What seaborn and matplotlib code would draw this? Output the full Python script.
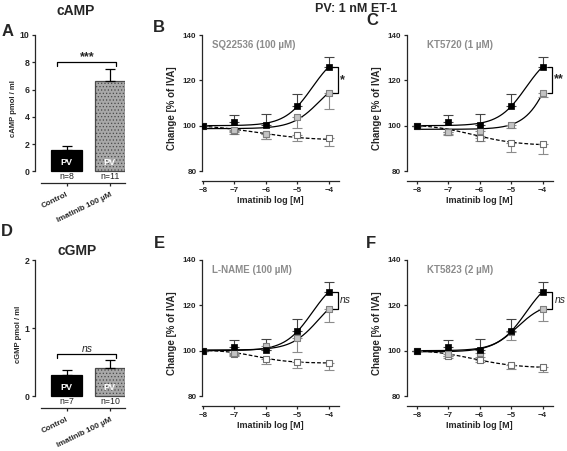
import numpy as np
import pandas as pd
import matplotlib
matplotlib.use('Agg')
import matplotlib.pyplot as plt
import matplotlib.transforms as mtransforms
import seaborn as sns

# ---- bar panels (A, D) ----
bar_groups = ['Control', 'Imatinib 100 µM']
camp_mean = [1.54, 6.64]
camp_sem = [0.35, 0.84]
camp_n = ['n=8', 'n=11']
cgmp_mean = [0.31, 0.41]
cgmp_sem = [0.07, 0.13]
cgmp_n = ['n=7', 'n=10']

# ---- concentration-response panels (B, C, E, F) ----
log_conc = [-8, -7, -6, -5, -4]
x_ticks = [-8, -7, -6, -5, -4]

# ET-1 + imatinib (black squares), same in every panel
et1_mean = [100, 101.8, 100.3, 108.5, 126]
et1_sem = [0, 3.0, 5.0, 5.4, 4.5]
et1_fit = [100, 133.7, -4.53, 1.0]   # bottom, top, logEC50, hill

# B: SQ22536
sq_mean = [100, 98.2, 96.5, 104, 114.5]
sq_sem = [0, 1.2, 2.3, 5.2, 7.2]
sq_fit = [98.7, 122.7, -4.3, 1.0]
sq_veh_mean = [100, 97.5, 96.5, 95.8, 94.7]
sq_veh_sem = [0, 1.0, 2.4, 2.4, 3.5]
sq_veh_fit = [100.6, 93.5, -6.3, 0.5]

# C: KT5720
kt20_mean = [100, 97.2, 97.8, 100.4, 114.6]
kt20_sem = [0, 1.0, 2.5, 1.5, 2.0]
kt20_fit = [98.4, 160.4, -3.54, 1.0]
kt20_veh_mean = [100, 97.0, 94.7, 92.2, 91.8]
kt20_veh_sem = [0, 1.3, 1.5, 4.0, 4.3]
kt20_veh_fit = [100.8, 91.2, -6.2, 0.6]

# E: L-NAME
lname_mean = [100, 99.0, 102.2, 105.4, 118.5]
lname_sem = [0, 1.0, 2.0, 6.0, 6.0]
lname_fit = [100.3, 127.0, -4.33, 1.0]
lname_veh_mean = [100, 98.5, 96.5, 94.8, 94.5]
lname_veh_sem = [0, 1.0, 2.5, 2.5, 3.2]
lname_veh_fit = [100.4, 94.5, -6.3, 0.8]

# F: KT5823
kt23_mean = [100, 98.5, 99.0, 108.2, 118.5]
kt23_sem = [0, 1.0, 2.0, 3.5, 5.5]
kt23_fit = [99.5, 121.5, -4.8, 1.0]
kt23_veh_mean = [100, 97.6, 95.9, 93.7, 92.8]
kt23_veh_sem = [0, 1.0, 1.0, 2.0, 2.0]
kt23_veh_fit = [100.6, 92.3, -6.2, 0.6]

sns.set_style('ticks')
plt.rcParams['font.family'] = ['Liberation Sans', 'DejaVu Sans']
plt.rcParams['font.weight'] = 'bold'
plt.rcParams['axes.linewidth'] = 0.9
plt.rcParams['hatch.linewidth'] = 0.5

W, H = 567, 451
fig = plt.figure(figsize=(W / 100, H / 100), dpi=100)

BLACK = '#000000'
GRAY_FACE = '#c4c4c4'
GRAY_EDGE = '#808080'
GRAY_LINE = '#8c8c8c'


def px_axes(left, top, right, bottom):
    return fig.add_axes([left / W, 1 - bottom / H, (right - left) / W, (bottom - top) / H])


def px_text(x, y, s, **kw):
    fig.text(x / W, 1 - y / H, s, ha='center', va='center', **kw)


def sigmoid(x, p):
    lo, hi, ec, h = p
    return lo + (hi - lo) / (1 + 10 ** ((ec - x) * h))


def bar_panel(ax, means, sems, ns, ymax, yticks, ylabel, sig_y, sig_text, sig_style):
    df = pd.DataFrame({'group': bar_groups, 'value': means})
    sns.barplot(data=df, x='group', y='value', hue='group', ax=ax, legend=False,
                palette=[BLACK, '#a8a8a8'], width=0.7, linewidth=0.9,
                edgecolor=BLACK, saturation=1)
    ax.patches[1].set_hatch('.....')
    ax.patches[1].set_edgecolor('#4a4a4a')
    ax.errorbar([0, 1], means, yerr=[[0, 0], sems], fmt='none', ecolor=BLACK,
                elinewidth=0.9, capsize=3.4, capthick=0.9)
    lo = -ymax * 0.085
    ax.set_ylim(lo, ymax)
    ax.set_xlim(-0.73, 1.35)
    ax.set_yticks(yticks)
    ax.spines['left'].set_bounds(0, ymax)
    ax.spines['bottom'].set_bounds(-0.6, 1.35)
    sns.despine(ax=ax)
    ax.set_xlabel('')
    ax.set_ylabel(ylabel, fontsize=5.5, fontweight='bold', labelpad=2)
    ax.tick_params(axis='y', labelsize=6.3, length=2.5, width=0.9, pad=1.5)
    ax.tick_params(axis='x', labelsize=5.8, length=2, width=0.9, pad=4)
    ax.set_xticks([0, 1])
    ax.set_xticklabels(bar_groups, rotation=26, ha='right', va='top',
                       rotation_mode='anchor', fontweight='bold')
    trans = mtransforms.blended_transform_factory(ax.transData, ax.transAxes)
    for i, n in enumerate(ns):
        ax.text(i, 0.042, n, transform=trans, ha='center', va='center',
                fontsize=6.3, fontweight='normal', color='#222222', zorder=10)
        ax.text(i, 0.14, 'PV', transform=trans, ha='center', va='center',
                fontsize=6.5, color='white', fontweight='bold', zorder=10)
    d = ymax * 0.03
    ax.plot([-0.21, -0.21, 1.14, 1.14], [sig_y - d, sig_y, sig_y, sig_y - d],
            color=BLACK, lw=0.9)
    ax.text(0.47, sig_y + ymax * 0.035, sig_text, ha='center', va='center',
            **sig_style)


def curve_panel(ax, xleft, mean, sem, fit, veh_mean, veh_sem, veh_fit,
                label, label_x, star, star_x, br_x0, br_x1, star_style):
    xs = np.linspace(-8, -4, 200)
    sns.lineplot(x=xs, y=sigmoid(xs, veh_fit), ax=ax, color=BLACK, lw=0.9,
                 linestyle=(0, (3, 1.6)))
    sns.lineplot(x=xs, y=sigmoid(xs, fit), ax=ax, color=BLACK, lw=0.9)
    sns.lineplot(x=xs, y=sigmoid(xs, et1_fit), ax=ax, color=BLACK, lw=0.9)

    zeros = [0] * len(log_conc)
    ax.errorbar(log_conc, veh_mean, yerr=[veh_sem, zeros], fmt='none',
                ecolor=GRAY_LINE, elinewidth=0.8, capsize=3.4, capthick=0.8)
    ax.errorbar(log_conc, mean, yerr=[sem, zeros], fmt='none',
                ecolor=GRAY_LINE, elinewidth=0.8, capsize=3.4, capthick=0.8)
    ax.errorbar(log_conc, et1_mean, yerr=[zeros, et1_sem], fmt='none',
                ecolor='#444444', elinewidth=0.8, capsize=3.4, capthick=0.8)

    sns.scatterplot(x=log_conc, y=veh_mean, ax=ax, marker='s', s=18,
                    color='white', edgecolor='#707070', linewidth=0.8, zorder=4)
    sns.scatterplot(x=log_conc, y=mean, ax=ax, marker='s', s=18,
                    color=GRAY_FACE, edgecolor=GRAY_EDGE, linewidth=0.8, zorder=5)
    sns.scatterplot(x=log_conc, y=et1_mean, ax=ax, marker='s', s=22,
                    color=BLACK, edgecolor=BLACK, linewidth=0.5, zorder=6)

    ax.set_xlim(xleft, -3.68)
    ax.set_ylim(75.6, 140)
    ax.set_xticks(x_ticks)
    ax.set_yticks([80, 100, 120, 140])
    ax.spines['left'].set_bounds(80, 140)
    sns.despine(ax=ax)
    ax.tick_params(labelsize=5.8, length=2.5, width=0.9, pad=1.5)
    for t in ax.get_xticklabels() + ax.get_yticklabels():
        t.set_fontweight('bold')
    ax.set_xlabel('Imatinib log [M]', fontsize=6.5, fontweight='bold', labelpad=2)
    ax.set_ylabel('Change [% of IVA]', fontsize=7, fontweight='bold', labelpad=4)

    y_top, y_bot = et1_mean[-1], mean[-1]
    ax.plot([br_x0, br_x1, br_x1, br_x0], [y_top, y_top, y_bot, y_bot],
            color=BLACK, lw=0.9, clip_on=False)
    ax.text(star_x, (y_top + y_bot) / 2, star, ha='center', va='center',
            clip_on=False, **star_style)
    ax.text(label_x, 135.5, label, ha='left', va='center', fontsize=7,
            color='#8c8c8c', fontweight='bold')


star_bold = dict(fontsize=9, fontweight='bold')
ns_style = dict(fontsize=7.5, fontstyle='italic', fontweight='normal')

# A
axA = px_axes(35, 35, 125, 183)
bar_panel(axA, camp_mean, camp_sem, camp_n, 10, [0, 2, 4, 6, 8, 10],
          'cAMP pmol / ml', 8.0, '***', dict(fontsize=9, fontweight='bold'))
# D
axD = px_axes(35, 260, 125, 408)
bar_panel(axD, cgmp_mean, cgmp_sem, cgmp_n, 2, [0, 1, 2],
          'cGMP pmol / ml', 0.62, 'ns', ns_style)

# B, C, E, F
axB = px_axes(202, 35, 339, 181)
curve_panel(axB, -8.03, sq_mean, sq_sem, sq_fit, sq_veh_mean, sq_veh_sem, sq_veh_fit,
            'SQ22536 (100 µM)', -7.71, '*', -3.56, -3.91, -3.72, star_bold)
axC = px_axes(406.7, 35, 552.7, 181)
curve_panel(axC, -8.32, kt20_mean, kt20_sem, kt20_fit, kt20_veh_mean, kt20_veh_sem,
            kt20_veh_fit, 'KT5720 (1 µM)', -7.66, '**', -3.5, -3.82, -3.71, star_bold)
axE = px_axes(202, 260, 339, 406)
curve_panel(axE, -8.03, lname_mean, lname_sem, lname_fit, lname_veh_mean, lname_veh_sem,
            lname_veh_fit, 'L-NAME (100 µM)', -7.71, 'ns', -3.49, -3.91, -3.72, ns_style)
axF = px_axes(406.7, 260, 552.7, 406)
curve_panel(axF, -8.32, kt23_mean, kt23_sem, kt23_fit, kt23_veh_mean, kt23_veh_sem,
            kt23_veh_fit, 'KT5823 (2 µM)', -7.66, 'ns', -3.45, -3.87, -3.7, ns_style)

# titles and panel letters
px_text(75.5, 11, 'cAMP', fontsize=10, fontweight='bold')
px_text(356, 8.5, 'PV: 1 nM ET-1', fontsize=9, fontweight='bold')
px_text(77, 251, 'cGMP', fontsize=10, fontweight='bold')
for letter, x, y in [('A', 8, 31), ('B', 159, 28), ('C', 372, 20.5),
                     ('D', 7, 231), ('E', 159, 244), ('F', 371, 244)]:
    px_text(x, y, letter, fontsize=12, fontweight='bold')

fig.savefig('out.png', dpi=100)
